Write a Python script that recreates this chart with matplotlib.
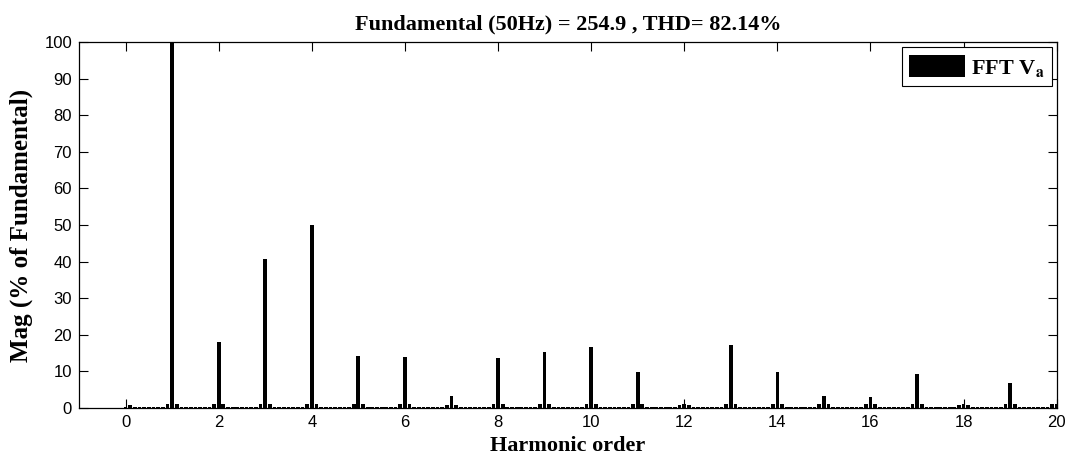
import numpy as np
import matplotlib
matplotlib.use("Agg")
import matplotlib.pyplot as plt

# FFT analysis of phase voltage Va (magnitudes in % of the fundamental)
fundamental_v = 254.9
thd_pct = 82.14

harmonic_orders = list(range(0, 21))
harmonic_mag = [0.3, 100.0, 18.0, 40.7, 50.0, 14.1, 13.9, 3.3, 13.6, 15.2,
                16.6, 9.8, 1.0, 17.2, 9.8, 3.3, 2.9, 9.2, 1.2, 6.8, 1.0]
# leakage bins right beside each harmonic, and the noise floor between them
sideband_mag = [0.9, 1.0, 1.0, 1.0, 1.0, 1.0, 1.0, 0.9, 1.0, 1.0,
                1.0, 1.0, 0.9, 1.0, 1.0, 1.0, 1.0, 1.0, 0.9, 1.0, 1.0]
floor_mag = 0.35
bin_step = 0.1  # spectral resolution in harmonic orders (5 Hz)

# assemble the spectrum on the FFT bin grid
n_bins = int(round(20 / bin_step)) + 1
bins = np.round(np.arange(n_bins) * bin_step, 2)
mag = np.full(n_bins, floor_mag)
for h, v, sb in zip(harmonic_orders, harmonic_mag, sideband_mag):
    i = int(round(h / bin_step))
    mag[i] = v
    for j in (i - 1, i + 1):
        if 0 <= j < n_bins:
            mag[j] = sb

plt.rcParams["mathtext.fontset"] = "stix"
serif = ["Liberation Serif", "DejaVu Serif"]
sans = ["Liberation Sans", "DejaVu Sans"]

fig = plt.figure(figsize=(10.75, 4.59), dpi=100)
ax = fig.add_axes([0.0735, 0.111, 0.9095, 0.7975])

ax.bar(bins, mag, width=bin_step * 0.8, color="black", edgecolor="none",
       label=r"FFT V$_\mathbf{a}$")

ax.set_xlim(-1, 20)
ax.set_ylim(0, 100)
ax.set_xticks(range(0, 21, 2))
ax.set_yticks(range(0, 101, 10))
ax.tick_params(direction="in", top=True, right=True, length=6.5, width=0.8,
               labelsize=12, pad=5)
for lbl in ax.get_xticklabels() + ax.get_yticklabels():
    lbl.set_family(sans)
for s in ax.spines.values():
    s.set_linewidth(0.9)

ax.set_title(f"Fundamental (50Hz) = {fundamental_v} , THD= {thd_pct:.2f}%",
             family=serif, fontweight="bold", fontsize=16, pad=9)
ax.set_xlabel("Harmonic order", family=serif, fontweight="bold",
              fontsize=16, labelpad=4)
ax.set_ylabel("Mag (% of Fundamental)", family=serif, fontweight="bold",
              fontsize=18, labelpad=8)

leg = ax.legend(loc="upper right", prop={"family": serif, "weight": "bold",
                                         "size": 16},
                handlelength=2.5, handleheight=1.2, borderaxespad=0.22,
                fancybox=False, framealpha=1, edgecolor="black",
                borderpad=0.35, handletextpad=0.25)
leg.get_frame().set_linewidth(0.8)

fig.savefig("out.png", dpi=100)
